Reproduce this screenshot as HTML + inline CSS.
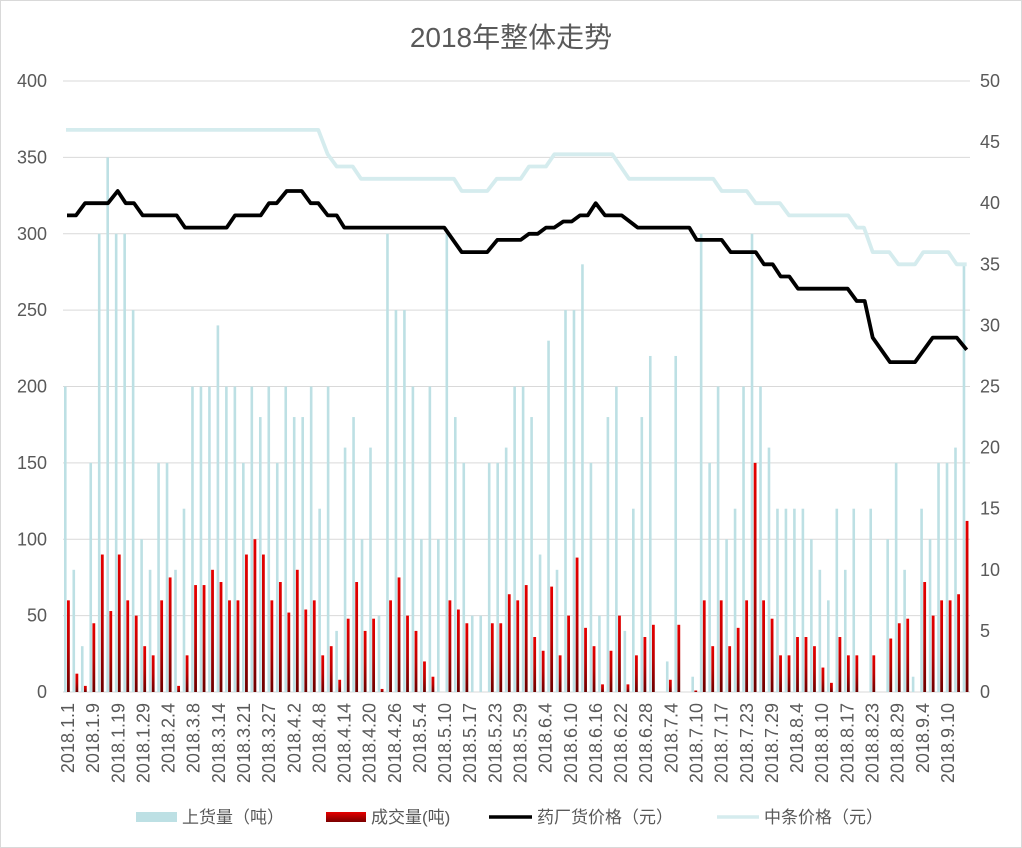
<!DOCTYPE html>
<html><head><meta charset="utf-8">
<style>
html,body{margin:0;padding:0;background:#fff;}
svg{display:block;}
text{font-family:"Liberation Sans","Noto Sans CJK SC",sans-serif;fill:#595959;}
</style></head>
<body>
<svg id="c" width="1022" height="848" viewBox="0 0 1022 848" xmlns="http://www.w3.org/2000/svg">
<defs>
<linearGradient id="rg" x1="0" y1="0" x2="0" y2="1">
<stop offset="0" stop-color="#e60000"/><stop offset="0.5" stop-color="#c00000"/><stop offset="1" stop-color="#6a0000"/>
</linearGradient>
<linearGradient id="rgl" x1="0" y1="0" x2="0" y2="1">
<stop offset="0" stop-color="#e60000"/><stop offset="1" stop-color="#7a0000"/>
</linearGradient>
</defs>
<rect x="0.5" y="0.5" width="1021" height="847" fill="#fff" stroke="#d9d9d9"/>
<text x="511" y="47" text-anchor="middle" font-size="28">2018年整体走势</text>
<g id="grid"></g>
<g id="bars"></g>
<g id="lines"></g>
<g id="labels"></g>
<rect x="136" y="812" width="41" height="10" fill="#bde0e4"/>
<text x="182" y="823" font-size="17">上货量（吨）</text>
<rect x="326" y="812" width="40" height="10" fill="url(#rgl)"/>
<text x="371" y="823" font-size="17">成交量(吨)</text>
<line x1="489" y1="817" x2="532" y2="817" stroke="#000" stroke-width="3.5"/>
<text x="537" y="823" font-size="17">药厂货价格（元）</text>
<line x1="717" y1="817" x2="759" y2="817" stroke="#d5ecee" stroke-width="3.5"/>
<text x="764" y="823" font-size="17">中条价格（元）</text>
</svg>
<script>
var NS="http://www.w3.org/2000/svg";
function el(p,t,a,txt){var e=document.createElementNS(NS,t);for(var k in a)e.setAttribute(k,a[k]);if(txt!==undefined)e.textContent=txt;document.getElementById(p).appendChild(e);return e;}
var y0=692,y1=81;
function yl(v){return y0-v*(y0-y1)/400;}
function yr(v){return y0-v*(y0-y1)/50;}
for(var i=0;i<=8;i++){var y=yl(i*50);
 el("grid","line",{x1:63,x2:970,y1:y,y2:y,stroke:"#d9d9d9","stroke-width":1});
 el("labels","text",{x:47,y:y+6,"text-anchor":"end","font-size":18},String(i*50));
}
for(var i=0;i<=10;i++){var y=yr(i*5);
 el("labels","text",{x:980,y:y+6,"font-size":18},String(i*5));
}
var light=[200,80,30,150,300,350,300,300,250,100,80,150,150,80,120,200,200,200,240,200,200,150,200,180,200,150,200,180,180,200,120,200,40,160,180,
100,160,50,300,250,250,200,100,200,100,300,180,150,50,50,150,150,160,200,200,180,90,230,80,250,250,280,150,50,180,200,40,120,180,220,
0,
20,220,0,10,300,150,200,100,120,200,300,200,160,120,120,120,120,100,80,60,120,80,120,0,120,0,100,150,80,10,120,100,150,150,160,280];
var red=[60,12,4,45,90,53,90,60,50,30,24,60,75,4,24,70,70,80,72,60,60,90,100,90,60,72,52,80,54,60,24,30,8,48,72,
40,48,2,60,75,50,40,20,10,0,60,54,45,0,0,45,45,64,60,70,36,27,69,24,50,88,42,30,5,27,50,5,24,36,44,
0,
8,44,0,1,60,30,60,30,42,60,150,60,48,24,24,36,36,30,16,6,36,24,24,0,24,0,35,45,48,0,72,50,60,60,64,112];
for(var i=0;i<107;i++){var cl=65.3+i*8.478;
 if(light[i]>0)el("bars","rect",{x:cl-1.3,y:yl(light[i]),width:2.6,height:y0-yl(light[i]),fill:"#bde0e4"});
 if(red[i]>0)el("bars","rect",{x:cl+1.7,y:yl(red[i]),width:2.8,height:y0-yl(red[i]),fill:"url(#rg)"});
}
el("grid","line",{x1:63,x2:970,y1:y0,y2:y0,stroke:"#d9d9d9","stroke-width":1});
var lp=[[66,46],[318.3,46],[327.7,44],[336.7,43],[352.7,43],[361,42],[454,42],[461.7,41],[487.3,41],[496.7,42],[520.7,42],[529,43],[546,43],[554.3,44],[612.3,44],[629,42],[713.3,42],[721.7,41],[746.7,41],[755.7,40],[780,40],[789,39],[848.3,39],[856.7,38],[864,38],[872.7,36],[889.3,36],[898.3,35],[915,35],[923.3,36],[948.3,36],[956.7,35],[966.7,35]];
var bp=[[67,39],[76,39],[85,40],[108,40],[117.7,41],[125.7,40],[134,40],[142.7,39],[176.7,39],[185,38],[226.7,38],[235,39],[260.7,39],[269,40],[276.7,40],[286.7,41],[301.7,41],[310.7,40],[318.3,40],[327.7,39],[336.7,39],[344.3,38],[444.3,38],[461.7,36],[487.3,36],[497.3,37],[520.7,37],[529,37.5],[537.7,37.5],[546,38],[554.3,38],[563.3,38.5],[571.7,38.5],[580,39],[587.7,39],[595.7,40],[605,39],[621.7,39],[637.7,38],[689.3,38],[696.7,37],[721.7,37],[730.7,36],[755.7,36],[764,35],[772.7,35],[780.7,34],[789.3,34],[798,33],[847.7,33],[856.7,32],[864.7,32],[872.7,29],[890,27],[915,27],[932.7,29],[956.7,29],[966.7,28]];
function pts(a){return a.map(function(p){return p[0]+","+yr(p[1]).toFixed(1)}).join(" ");}
el("lines","polyline",{points:pts(lp),fill:"none",stroke:"#d5ecee","stroke-width":3.8,"stroke-linejoin":"round"});
el("lines","polyline",{points:pts(bp),fill:"none",stroke:"#000","stroke-width":3.8,"stroke-linejoin":"round"});
var xl=["2018.1.1","2018.1.9","2018.1.19","2018.1.29","2018.2.4","2018.3.8","2018.3.14","2018.3.21","2018.3.27","2018.4.2","2018.4.8","2018.4.14","2018.4.20","2018.4.26","2018.5.4","2018.5.10","2018.5.17","2018.5.23","2018.5.29","2018.6.4","2018.6.10","2018.6.16","2018.6.22","2018.6.28","2018.7.4","2018.7.10","2018.7.17","2018.7.23","2018.7.29","2018.8.4","2018.8.10","2018.8.17","2018.8.23","2018.8.29","2018.9.4","2018.9.10"];
for(var k=0;k<xl.length;k++){var x=68+k*25.14+6;
 el("labels","text",{x:0,y:0,"font-size":18,"text-anchor":"end",transform:"translate("+x+",703) rotate(-90)"},xl[k]);
}
</script>
</body></html>
